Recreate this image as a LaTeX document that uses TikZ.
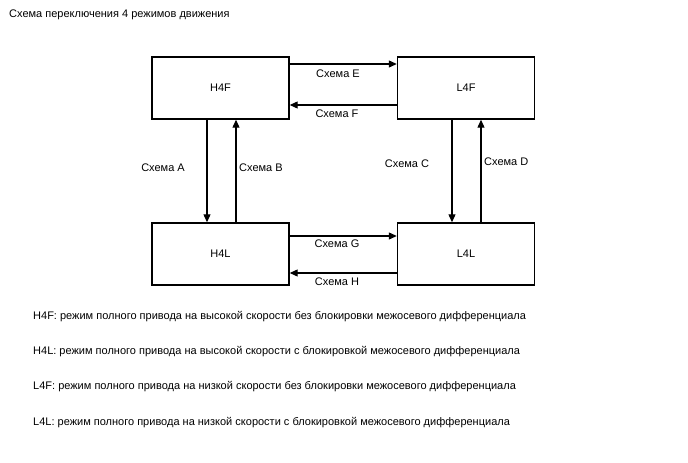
\documentclass[tikz,border=0pt]{standalone}
\usepackage{fontspec}
\setmainfont{Liberation Sans}
\usetikzlibrary{arrows.meta}
\begin{document}
\begin{tikzpicture}[x=1pt,y=-1pt,
  box/.style={draw,line width=1.4pt,minimum width=137pt,minimum height=62pt,inner sep=0pt,font=\fontsize{11}{13}\selectfont},
  arr/.style={line width=1.1pt,-{Triangle[length=8pt,width=7pt]}},
  lbl/.style={inner sep=0pt,font=\fontsize{11}{13}\selectfont},
  txt/.style={inner sep=0pt,anchor=west,font=\fontsize{11}{13}\selectfont}]
\useasboundingbox (0,0) rectangle (688,463);
\node[txt] (title) at (9,15) {Схема переключения 4 режимов движения};
\node[box] (h4f) at (220.5,88) {H4F};
\node[box] (l4f) at (466,88) {L4F};
\node[box] (h4l) at (220.5,254) {H4L};
\node[box] (l4l) at (466,254) {L4L};
\draw[arr] ([yshift=24pt]h4f.east) -- ([yshift=24pt]l4f.west);
\draw[arr] ([yshift=-17pt]l4f.west) -- ([yshift=-17pt]h4f.east);
\draw[arr] ([yshift=18pt]h4l.east) -- ([yshift=18pt]l4l.west);
\draw[arr] ([yshift=-19pt]l4l.west) -- ([yshift=-19pt]h4l.east);
\draw[arr] ([xshift=-13.5pt]h4f.south) -- ([xshift=-13.5pt]h4l.north);
\draw[arr] ([xshift=15.5pt]h4l.north) -- ([xshift=15.5pt]h4f.south);
\draw[arr] ([xshift=-14pt]l4f.south) -- ([xshift=-14pt]l4l.north);
\draw[arr] ([xshift=15pt]l4l.north) -- ([xshift=15pt]l4f.south);
\node[lbl] (le) at (338,74) {Схема E};
\node[lbl] (lf) at (337,114) {Схема F};
\node[lbl] (lg) at (337,244) {Схема G};
\node[lbl] (lh) at (337,282) {Схема H};
\node[lbl,anchor=east] (la) at (185,168) {Схема A};
\node[lbl,anchor=west] (lb) at (239,168) {Схема B};
\node[lbl] (lc) at (407,164) {Схема C};
\node[lbl,anchor=west] (ld) at (484,162) {Схема D};
\node[txt] (t1) at (33,317) {H4F: режим полного привода на высокой скорости без блокировки межосевого дифференциала};
\node[txt] (t2) at (33,352) {H4L: режим полного привода на высокой скорости с блокировкой межосевого дифференциала};
\node[txt] (t3) at (33,387) {L4F: режим полного привода на низкой скорости без блокировки межосевого дифференциала};
\node[txt] (t4) at (33,423) {L4L: режим полного привода на низкой скорости с блокировкой межосевого дифференциала};
\end{tikzpicture}
\end{document}
